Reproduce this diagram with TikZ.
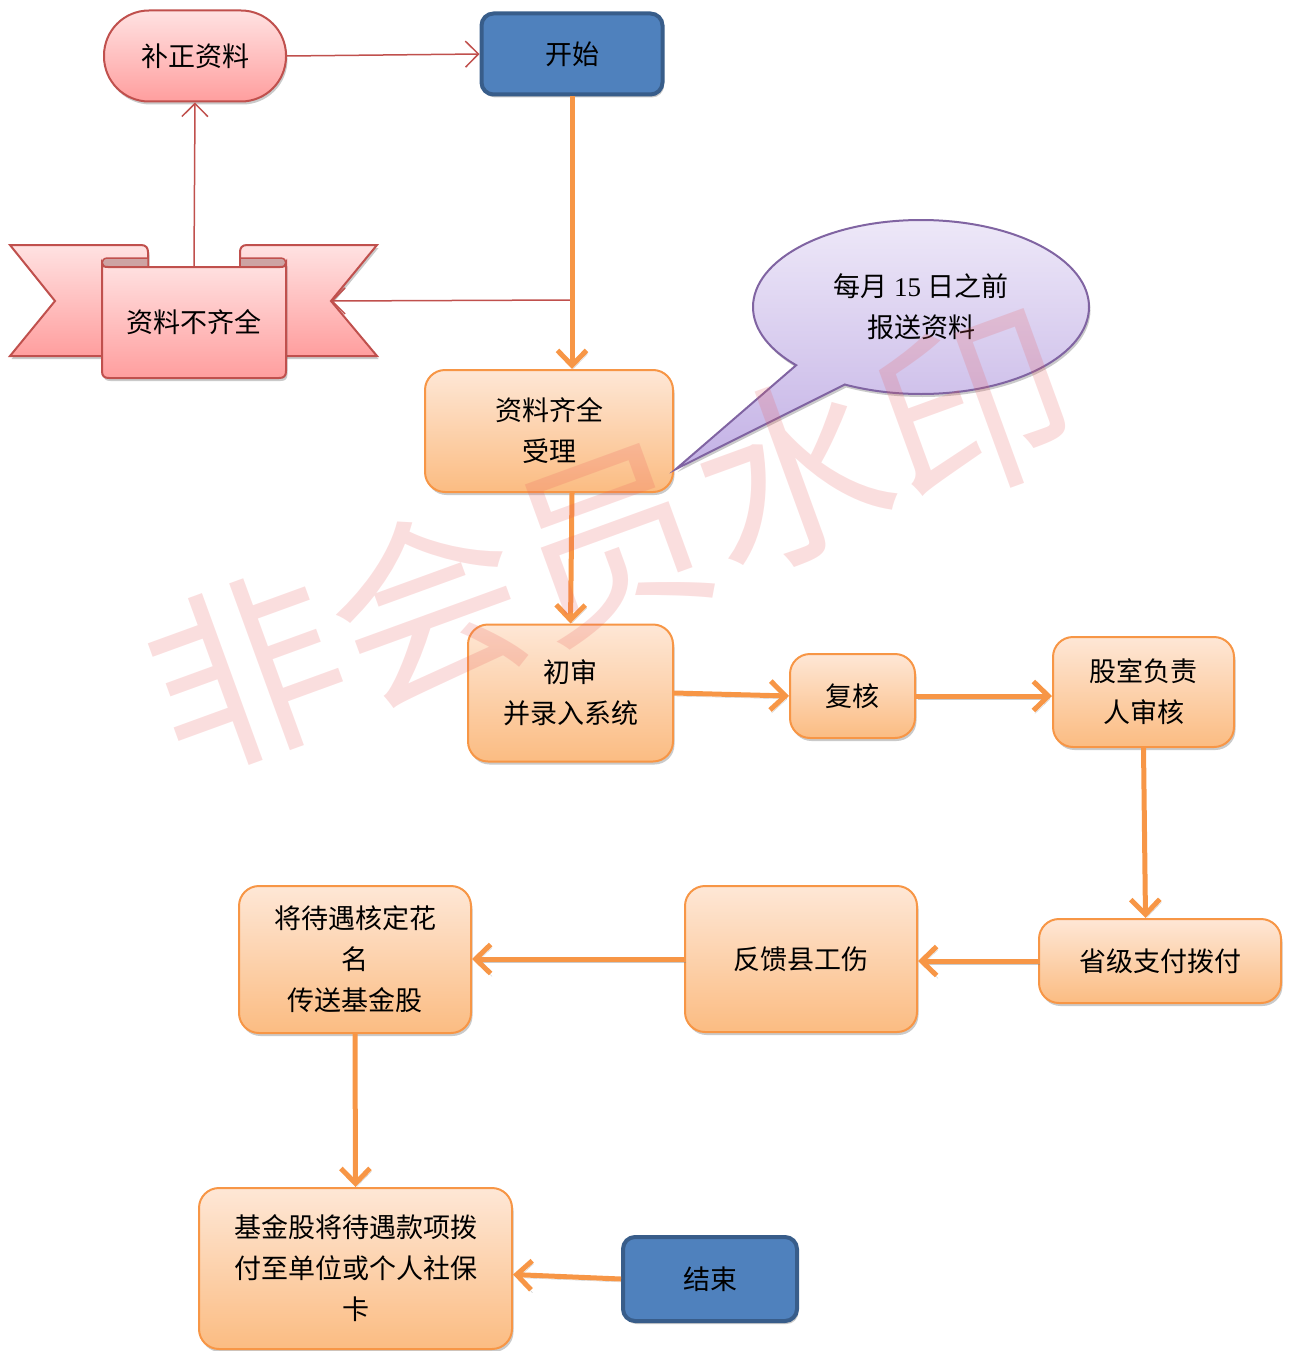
\documentclass[tikz,border=0pt]{standalone}
\usepackage{fontspec}
\setmainfont{Noto Sans CJK SC}
\newfontfamily\digitfont{Liberation Serif}
\usetikzlibrary{arrows.meta,shadows,calc}
\definecolor{orB}{HTML}{F79646}
\definecolor{orT}{HTML}{FEE7D6}
\definecolor{orBt}{HTML}{FBBC82}
\definecolor{pkB}{HTML}{C0504D}
\definecolor{pkT}{HTML}{FFE2E2}
\definecolor{pkBt}{HTML}{FF9E9E}
\definecolor{blF}{HTML}{4F81BD}
\definecolor{blB}{HTML}{385D8A}
\definecolor{puB}{HTML}{8064A2}
\definecolor{puT}{HTML}{EFEAF9}
\definecolor{puBt}{HTML}{C3B1E5}
\definecolor{foldc}{HTML}{CDA3A3}
\definecolor{wmc}{HTML}{E85A5A}
\begin{document}
\begin{tikzpicture}[x=1pt,y=-1pt,
 every node/.style={font=\fontsize{27pt}{41pt}\selectfont, align=center, inner sep=0pt},
 sh/.style={drop shadow={shadow xshift=1.5pt,shadow yshift=-3pt,opacity=0.35,fill=black!60}},
 obox/.style={draw=orB, line width=2pt, rounded corners=20pt, top color=orT, bottom color=orBt, sh},
 bbox/.style={draw=blB, line width=4pt, rounded corners=12pt, fill=blF, sh},
 pill/.style={draw=pkB, line width=2pt, rounded corners=45pt, top color=pkT, bottom color=pkBt, sh},
 ribbon/.style={draw=pkB, line width=2pt, top color=pkT, bottom color=pkBt},
 oarr/.style={draw=orB, line width=5pt, -{Straight Barb[length=15pt,width=29pt]},
   preaction={draw=black!45, opacity=0.45, transform canvas={shift={(1.5pt,-3pt)}}}},
 rarr/.style={draw=pkB, line width=1.5pt, -{Straight Barb[length=13pt,width=26pt]}},
]
\useasboundingbox (0,0) rectangle (1288,1351);

% ---- nodes ----
\node[pill, minimum width=182pt, minimum height=91pt] (bz) at (195,56) {补正资料};
\node[bbox, minimum width=181pt, minimum height=81pt] (ks) at (572,54) {开始};

% ribbon 资料不齐全
\draw[ribbon, sh] (10,245) -- (141,245) .. controls (146,245) and (148,248) .. (148,252) -- (148,356) -- (10,356) -- (55,301) -- cycle;
\draw[ribbon, sh] (377,245) -- (247,245) .. controls (242,245) and (240,248) .. (240,252) -- (240,356) -- (377,356) -- (331,301) -- cycle;
\draw[draw=pkB, line width=1.5pt, fill=foldc] (148,258) -- (108,258) .. controls (104,258) and (102,260) .. (102,263) .. controls (102,266) and (104,267) .. (108,267) -- (148,267) -- cycle;
\draw[draw=pkB, line width=1.5pt, fill=foldc] (240,258) -- (280,258) .. controls (284,258) and (286,260) .. (286,263) .. controls (286,266) and (284,267) .. (280,267) -- (240,267) -- cycle;
\draw[ribbon, sh] (102,263) .. controls (102,266) and (104,267) .. (108,267) -- (280,267) .. controls (284,267) and (286,266) .. (286,263) -- (286,371) .. controls (286,376) and (284,378) .. (279,378) -- (109,378) .. controls (104,378) and (102,376) .. (102,371) -- cycle;
\node[minimum width=184pt, minimum height=111pt] (bq) at (194,322.5) {资料不齐全};
\coordinate (notch) at (331,301);

\node[obox, minimum width=248pt, minimum height=122pt] (sl) at (549,431) {资料齐全\\受理};

% callout
\coordinate (ce) at (921,307);
\coordinate (tip) at (676,469);
\draw[draw=puB, line width=2pt, top color=puT, bottom color=puBt, sh]
  (ce) ++(138:168 and 87) arc[start angle=138, end angle=477, x radius=168, y radius=87] -- (tip) -- cycle;
\node (cb) at (921,307) {每月 {\digitfont 15} 日之前\\报送资料};

\node[obox, minimum width=205pt, minimum height=137pt] (cs) at (570.5,693) {初审\\并录入系统};
\node[obox, minimum width=125pt, minimum height=84pt] (fh) at (852.5,696) {复核};
\node[obox, minimum width=181pt, minimum height=110pt] (gs) at (1143.5,692) {股室负责\\人审核};
\node[obox, minimum width=242pt, minimum height=84pt] (sj) at (1160,961) {省级支付拨付};
\node[obox, minimum width=232pt, minimum height=146pt] (fk) at (801,959) {反馈县工伤};
\node[obox, minimum width=232pt, minimum height=147pt] (jd) at (355,959.5) {将待遇核定花\\名\\传送基金股};
\node[obox, minimum width=313pt, minimum height=161pt] (jj) at (355.5,1268.5) {基金股将待遇款项拨\\付至单位或个人社保\\卡};
\node[bbox, minimum width=174pt, minimum height=84pt] (js) at (710,1279) {结束};

% ---- connectors ----
\draw[rarr] (bz.east) -- (ks.west);
\draw[rarr] (bq.north) -- (bz.south);
\coordinate (sp) at (572,300);
\draw[rarr] (sp) -- (notch);
\draw[oarr] (ks.south) -- (ks.south |- sl.north);
\draw[oarr] (ks.south |- sl.south) -- (cs.north);
\draw[oarr] (cs.east) -- (fh.west);
\draw[oarr] (fh.east) -- (fh.east -| gs.west);
\draw[oarr] (gs.south) -- ($(gs.south |- sj.north)+(2,0)$);
\draw[oarr] (sj.west) -- (sj.west -| fk.east);
\draw[oarr] (fk.west) -- (fk.west -| jd.east);
\draw[oarr] (jd.south) -- (jj.north);
\draw[oarr] (js.west) -- ($(jj.east)+(0,6)$);

% watermark
\node[rotate=20, text=wmc, text opacity=0.2, font=\fontsize{194pt}{194pt}\selectfont] (wm) at (610,540) {非会员水印};
\end{tikzpicture}
\end{document}
